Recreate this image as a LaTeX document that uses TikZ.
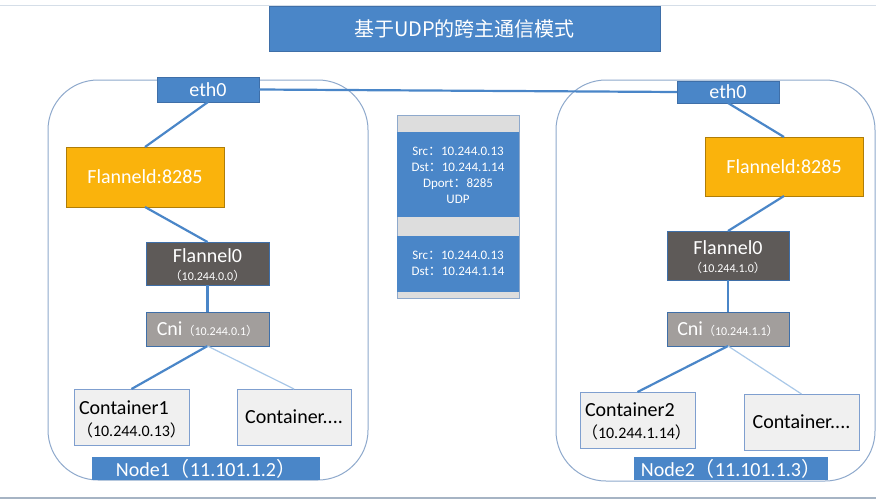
\documentclass[tikz,border=0pt]{standalone}
\usepackage{fontspec}
\setmainfont{Carlito}
\newfontfamily\cjk{Noto Sans CJK SC}
\newcommand\zlp{{\cjk （}}
\newcommand\zrp{{\cjk ）}}
\newcommand\zco{{\cjk ：}}
\definecolor{ublue}{HTML}{4A86C8}
\definecolor{ubord}{HTML}{3F6FA8}
\definecolor{uorange}{HTML}{FAB30C}
\definecolor{udark}{HTML}{5E5A58}
\definecolor{ugray}{HTML}{A29E9C}
\definecolor{ucont}{HTML}{F0F0F0}
\definecolor{ucontb}{HTML}{7F9FCF}
\definecolor{uframe}{HTML}{8EA9CC}
\definecolor{ulight}{HTML}{A9C8E8}
\definecolor{ustrip}{HTML}{DDDDDD}
\definecolor{utop}{HTML}{D5DEE8}
\definecolor{ubot}{HTML}{A6B4C4}
\begin{document}
\begin{tikzpicture}[x=1pt,y=-1pt,
  every node/.style={inner sep=0pt,outer sep=0pt},
  big/.style={font=\fontsize{20}{24}\selectfont},
  box/.style={draw=ubord,line width=0.6pt,rectangle},
  ethbox/.style={box,fill=ublue,text=white,big},
  fdbox/.style={box,draw=uorange!70!black,fill=uorange,text=white,big},
  f0box/.style={box,fill=udark},
  cnibox/.style={box,fill=ugray,text=white,big},
  ctbox/.style={draw=ucontb,line width=0.8pt,fill=ucont},
  frame/.style={draw=uframe,line width=1pt,fill=white,rounded corners=50pt},
  link/.style={draw=ublue,line width=2.2pt},
  thin/.style={draw=ulight,line width=1.2pt},
  lbl/.style={box,fill=ublue,text=white,big},
]
\useasboundingbox (0,0) rectangle (876,501);
\fill[white] (0,0) rectangle (876,501);
% top and bottom rules
\coordinate (tl) at (0,5.5);
\coordinate (tr) at (876,5.5);
\draw[utop,line width=1pt] (tl) -- (tr);
\coordinate (bl) at (0,498);
\coordinate (br) at (876,498);
\draw[ubot,line width=2pt] (bl) -- (br);

% title
\node[fill=ublue,draw=ubord,line width=0.5pt,minimum width=391pt,minimum height=45pt,text=white,font=\cjk\fontsize{20}{24}\selectfont] (title) at (464.5,28.5) {基于UDP的跨主通信模式};

% frames
\node[frame,minimum width=320pt,minimum height=400pt] (fr1) at (208,280) {};
\node[frame,minimum width=319pt,minimum height=401pt] (fr2) at (715.5,280.5) {};

% ---- left node
\node[ethbox,minimum width=102pt,minimum height=25pt] (e1) at (208,89.5) {eth0};
\node[fdbox,minimum width=158pt,minimum height=60pt] (fd1) at (145,177) {Flanneld:8285};
\node[f0box,minimum width=123pt,minimum height=43pt] (f01) at (207.5,263.5) {};
\node[text=white,big] (f01a) at (207.5,256) {Flannel0};
\node[text=white,font=\fontsize{12}{14}\selectfont] (f01b) at (207.5,276) {\zlp 10.244.0.0\zrp};
\node[cnibox,minimum width=123pt,minimum height=34pt] (c1) at (207.5,329) {Cni{\fontsize{12}{14}\selectfont\zlp 10.244.0.1\zrp}};
\node[ctbox,minimum width=115pt,minimum height=56pt] (k1) at (131.5,417) {};
\node[anchor=west,big] (k1a) at (79,408) {Container1};
\node[anchor=west,font=\fontsize{16}{18}\selectfont] (k1b) at (77,430) {\zlp 10.244.0.13\zrp};
\node[ctbox,minimum width=114pt,minimum height=56pt,big] (k2) at (294,417) {Container....};
\node[lbl,draw=none,minimum width=228pt,minimum height=23pt] (n1) at (206,468.5) {Node1\zlp 11.101.1.2\zrp};

% ---- right node
\node[ethbox,minimum width=102pt,minimum height=22pt] (e2) at (728,92) {eth0};
\node[fdbox,minimum width=158pt,minimum height=59pt] (fd2) at (784,166.5) {Flanneld:8285};
\node[f0box,minimum width=122pt,minimum height=49pt] (f02) at (728,255.5) {};
\node[text=white,big] (f02a) at (728,248) {Flannel0};
\node[text=white,font=\fontsize{12}{14}\selectfont] (f02b) at (728,268) {\zlp 10.244.1.0\zrp};
\node[cnibox,minimum width=122pt,minimum height=34pt] (c2) at (728,329) {Cni{\fontsize{12}{14}\selectfont\zlp 10.244.1.1\zrp}};
\node[ctbox,minimum width=115pt,minimum height=56pt] (k3) at (637.5,420) {};
\node[anchor=west,big] (k3a) at (585,410) {Container2};
\node[anchor=west,font=\fontsize{16}{18}\selectfont] (k3b) at (582,432) {\zlp 10.244.1.14\zrp};
\node[ctbox,minimum width=115pt,minimum height=56pt,big] (k4) at (801.5,422) {Container....};
\node[lbl,draw=none,minimum width=194pt,minimum height=23pt] (n2) at (731,468.5) {Node2\zlp 11.101.1.3\zrp};

% ---- connectors
\draw[link] (e1.east) -- (e2.west);
\draw[link] (e1.south) -- (fd1.north);
\draw[link] (fd1.south) -- (f01.north);
\draw[link] (f01.south) -- (c1.north);
\draw[link] (c1.south) -- (k1.north);
\draw[thin] (c1.south) -- (k2.north);
\draw[link] (e2.south) -- (fd2.north);
\draw[link] (fd2.south) -- (f02.north);
\draw[link] (f02.south) -- (c2.north);
\draw[link] (c2.south) -- (k3.north);
\draw[thin] (c2.south) -- (k4.north);

% ---- packet
\node[draw=uframe,line width=0.8pt,fill=ustrip,minimum width=122pt,minimum height=183pt] (pk) at (458,206.5) {};
\node[fill=ublue,minimum width=122pt,minimum height=85pt] (pk1) at (458,174.5) {};
\node[fill=ublue,minimum width=122pt,minimum height=56pt] (pk2) at (458,264) {};
\node[text=white,align=center,font=\fontsize{13}{16}\selectfont] (pk1t) at (458,175) {Src\zco 10.244.0.13\\Dst\zco 10.244.1.14\\Dport\zco 8285\\UDP};
\node[text=white,align=center,font=\fontsize{13}{16}\selectfont] (pk2t) at (458,263.5) {Src\zco 10.244.0.13\\Dst\zco 10.244.1.14};
\end{tikzpicture}
\end{document}
